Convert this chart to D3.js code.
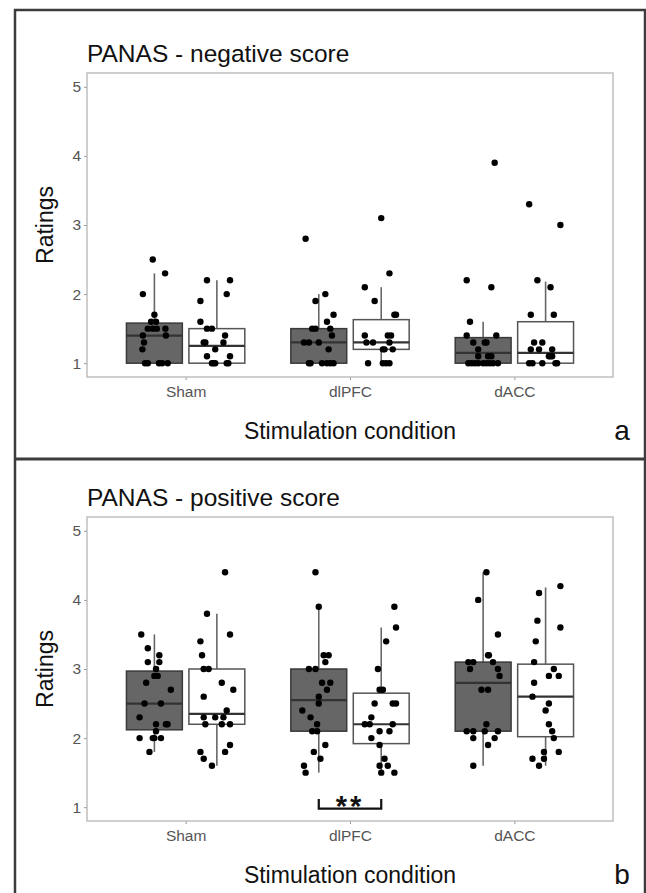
<!DOCTYPE html>
<html>
<head>
<meta charset="utf-8">
<script src="https://cdnjs.cloudflare.com/ajax/libs/d3/7.8.5/d3.min.js"></script>
<style>
  body { margin: 0; background: #fff; }
  text { font-family: "Liberation Sans", Arial, sans-serif; }
</style>
</head>
<body>
<div id="chart"></div>
<script>

// categories and tick labels
var categories = ["Sham", "dlPFC", "dACC"];
var yTicks = [1, 2, 3, 4, 5];

// points are [rating, jitter] (jitter in category units)
// groups go Sham-dark, Sham-white, dlPFC-dark, dlPFC-white, dACC-dark, dACC-white
var negShamDark = [[2.5,-0.01],[2.3,0.065],[2.0,-0.07],[1.7,0.0],[1.6,-0.02],[1.6,0.01],[1.5,-0.04],[1.5,-0.01],[1.5,0.015],[1.5,0.067],[1.4,-0.07],[1.4,0.07],[1.3,-0.063],[1.2,-0.073],[1.0,-0.057],[1.0,-0.04],[1.0,0.028],[1.0,0.047],[1.0,0.081]];
var negShamWhite = [[2.2,-0.06],[2.2,0.08],[2.0,0.06],[1.9,-0.10],[1.6,-0.10],[1.5,-0.06],[1.5,-0.03],[1.4,0.05],[1.3,-0.08],[1.3,-0.07],[1.3,0.04],[1.2,-0.01],[1.1,-0.06],[1.1,0.08],[1.0,-0.03],[1.0,-0.02],[1.0,-0.01],[1.0,0.06],[1.0,0.07]];
var negDlpfcDark = [[2.8,-0.08],[2.0,0.04],[1.9,-0.02],[1.7,0.09],[1.6,0.05],[1.5,-0.04],[1.5,-0.02],[1.5,0.07],[1.4,0.08],[1.3,-0.09],[1.3,-0.06],[1.3,0.0],[1.2,0.06],[1.0,-0.06],[1.0,-0.05],[1.0,0.02],[1.0,0.05],[1.0,0.07],[1.0,0.09]];
var negDlpfcWhite = [[3.1,0.0],[2.3,0.05],[2.1,-0.1],[1.9,-0.04],[1.7,0.08],[1.7,0.09],[1.4,-0.1],[1.4,0.04],[1.4,0.06],[1.3,-0.09],[1.3,-0.05],[1.3,0.05],[1.2,0.01],[1.2,0.02],[1.2,0.07],[1.0,-0.08],[1.0,0.01],[1.0,0.03],[1.0,0.05]];
var negDaccDark = [[3.9,0.07],[2.2,-0.1],[2.1,0.05],[1.6,-0.08],[1.4,-0.1],[1.4,0.08],[1.3,-0.06],[1.3,0.01],[1.3,0.02],[1.2,-0.03],[1.1,-0.03],[1.1,0.03],[1.1,0.05],[1.0,-0.09],[1.0,-0.07],[1.0,-0.05],[1.0,-0.03],[1.0,0.0],[1.0,0.02],[1.0,0.04],[1.0,0.06],[1.0,0.09]];
var negDaccWhite = [[3.3,-0.1],[3.0,0.09],[2.2,-0.05],[2.1,0.03],[1.7,-0.09],[1.7,0.05],[1.3,-0.07],[1.3,-0.02],[1.2,-0.09],[1.2,-0.04],[1.2,0.04],[1.1,0.02],[1.1,0.03],[1.1,0.04],[1.0,-0.1],[1.0,-0.08],[1.0,-0.02],[1.0,0.06],[1.0,0.07]];

var posShamDark = [[3.5,-0.08],[3.3,-0.04],[3.2,0.03],[3.1,-0.04],[3.1,0.03],[3.0,0.01],[2.9,0.0],[2.9,0.02],[2.8,-0.05],[2.7,0.1],[2.5,-0.06],[2.5,0.04],[2.3,-0.09],[2.2,0.01],[2.2,0.07],[2.2,0.08],[2.1,0.01],[2.0,-0.09],[2.0,-0.01],[2.0,0.0],[2.0,0.04],[1.8,-0.03]];
var posShamWhite = [[4.4,0.05],[3.8,-0.06],[3.5,0.08],[3.4,-0.1],[3.2,-0.09],[3.0,-0.08],[3.0,-0.05],[2.8,0.03],[2.7,0.1],[2.6,-0.08],[2.4,0.06],[2.3,-0.08],[2.3,-0.01],[2.3,0.04],[2.2,-0.07],[2.2,0.03],[2.2,0.08],[1.9,0.08],[1.8,-0.1],[1.8,0.05],[1.7,-0.08],[1.6,-0.03]];
var posDlpfcDark = [[4.4,-0.02],[3.9,0.0],[3.2,0.03],[3.2,0.06],[3.1,0.04],[3.0,-0.06],[3.0,-0.02],[2.8,0.02],[2.8,0.07],[2.7,0.05],[2.6,0.0],[2.5,0.0],[2.4,-0.1],[2.3,-0.05],[2.2,-0.01],[2.1,-0.04],[2.1,-0.01],[1.9,0.04],[1.8,-0.03],[1.7,0.01],[1.6,-0.09],[1.5,-0.08]];
var posDlpfcWhite = [[3.9,0.08],[3.6,0.09],[3.4,0.03],[3.0,-0.02],[2.7,-0.01],[2.7,0.01],[2.5,-0.04],[2.5,0.07],[2.5,0.09],[2.3,-0.06],[2.2,-0.1],[2.2,-0.07],[2.2,0.07],[2.1,-0.01],[2.1,0.05],[2.0,-0.06],[1.9,-0.01],[1.7,0.02],[1.6,-0.01],[1.6,0.04],[1.5,0.0],[1.5,0.08]];
var posDaccDark = [[4.4,0.02],[4.0,-0.03],[3.5,0.09],[3.2,0.03],[3.2,0.035],[3.1,-0.09],[3.1,-0.06],[3.1,0.06],[3.0,-0.08],[3.0,0.09],[2.9,0.1],[2.7,-0.01],[2.7,0.03],[2.2,0.02],[2.1,-0.1],[2.1,-0.06],[2.1,0.01],[2.1,0.09],[2.0,-0.06],[2.0,0.07],[1.9,0.03],[1.6,-0.06]];
var posDaccWhite = [[4.2,0.09],[4.1,-0.04],[3.7,-0.05],[3.6,0.09],[3.4,-0.06],[3.1,-0.07],[3.0,0.05],[2.9,0.02],[2.9,0.08],[2.8,-0.07],[2.6,-0.08],[2.5,0.02],[2.4,0.0],[2.2,0.02],[2.1,0.04],[2.0,0.05],[1.8,-0.01],[1.8,0.08],[1.7,-0.08],[1.7,-0.01],[1.6,-0.04]];

// box stats [lower whisker, q1, median, q3, upper whisker]
var negBoxes = [[1,1,1.4,1.58,2.3],[1,1,1.25,1.5,2.2],[1,1,1.3,1.5,2.0],[1,1.2,1.3,1.63,2.1],[1,1,1.15,1.37,1.6],[1,1,1.15,1.6,2.18]];
var posBoxes = [[1.8,2.12,2.5,2.97,3.5],[1.6,2.2,2.35,3.0,3.8],[1.5,2.1,2.55,3.0,3.9],[1.5,1.92,2.2,2.65,3.6],[1.6,2.1,2.8,3.1,4.4],[1.6,2.02,2.6,3.07,4.18]];

// significance bracket for dlPFC in panel b: [bottom, tip] ratings
var posBracket = [0.98, 1.12];

var width = 646, height = 893;
var svg = d3.select("#chart").append("svg")
    .attr("width", width)
    .attr("height", height);

// outer frame and divider
svg.append("rect")
    .attr("x", 15).attr("y", 10)
    .attr("width", 630).attr("height", 900)
    .attr("fill", "none")
    .attr("stroke", "#3c3c3c")
    .attr("stroke-width", 2.5);
svg.append("line")
    .attr("x1", 15).attr("x2", 646)
    .attr("y1", 459).attr("y2", 459)
    .attr("stroke", "#3c3c3c")
    .attr("stroke-width", 3);

var dodge = 0.19, boxW = 0.34;

function drawPanel(top, title, letter, groups, boxes, bracket) {
  var panel = {left: 87, right: 613, top: top, bottom: top + 304};

  var x = d3.scaleLinear().domain([0.4, 3.6]).range([panel.left, panel.right]);
  var y = d3.scaleLinear().domain([0.8, 5.2]).range([panel.bottom, panel.top]);

  var g = svg.append("g");

  // title
  g.append("text")
      .attr("x", panel.left)
      .attr("y", top - 11)
      .style("font-size", "24.5px")
      .style("fill", "#111")
      .text(title);

  // axes
  var yAxis = d3.axisLeft(y).tickValues(yTicks).tickFormat(d3.format("d"))
      .tickSize(3).tickPadding(3);
  var gy = g.append("g")
      .attr("transform", "translate(" + panel.left + ",0)")
      .call(yAxis);
  var xAxis = d3.axisBottom(x).tickValues([1, 2, 3])
      .tickFormat(function(d) { return categories[d - 1]; })
      .tickSize(3).tickPadding(6);
  var gx = g.append("g")
      .attr("transform", "translate(0," + panel.bottom + ")")
      .call(xAxis);
  [gx, gy].forEach(function(a) {
    a.select(".domain").remove();
    a.selectAll("line").attr("stroke", "#999").attr("stroke-width", 1);
    a.selectAll("text").style("font-size", "15.5px").style("fill", "#555")
      .style("font-family", '"Liberation Sans", Arial, sans-serif');
  });

  // panel border
  g.append("rect")
      .attr("x", panel.left).attr("y", panel.top)
      .attr("width", panel.right - panel.left)
      .attr("height", panel.bottom - panel.top)
      .attr("fill", "none")
      .attr("stroke", "#b5b5b5")
      .attr("stroke-width", 1.3);

  // axis titles
  g.append("text")
      .attr("x", x(2))
      .attr("y", panel.bottom + 62)
      .attr("text-anchor", "middle")
      .style("font-size", "23px")
      .style("fill", "#111")
      .text("Stimulation condition");
  g.append("text")
      .attr("transform", "translate(53," + y(3) + ") rotate(-90)")
      .attr("text-anchor", "middle")
      .style("font-size", "23px")
      .style("fill", "#111")
      .text("Ratings");

  // panel letter
  g.append("text")
      .attr("x", 622)
      .attr("y", panel.bottom + 63)
      .attr("text-anchor", "middle")
      .style("font-size", "28px")
      .style("fill", "#111")
      .text(letter);

  // boxes
  boxes.forEach(function(b, i) {
    var cat = Math.floor(i / 2) + 1;
    var cx = cat + (i % 2 === 0 ? -dodge : dodge);
    var dark = i % 2 === 0;
    var bg = g.append("g");
    bg.append("line")
        .attr("x1", x(cx)).attr("x2", x(cx))
        .attr("y1", y(b[0])).attr("y2", y(b[4]))
        .attr("stroke", "#666").attr("stroke-width", 1.6);
    bg.append("rect")
        .attr("x", x(cx - boxW / 2))
        .attr("width", x(cx + boxW / 2) - x(cx - boxW / 2))
        .attr("y", y(b[3]))
        .attr("height", Math.max(y(b[1]) - y(b[3]), 0))
        .attr("fill", dark ? "#666666" : "#ffffff")
        .attr("stroke", dark ? "#3a3a3a" : "#555")
        .attr("stroke-width", 1.5);
    bg.append("line")
        .attr("x1", x(cx - boxW / 2)).attr("x2", x(cx + boxW / 2))
        .attr("y1", y(b[2])).attr("y2", y(b[2]))
        .attr("stroke", "#333").attr("stroke-width", 2.2);
  });

  // jittered points
  groups.forEach(function(pts, i) {
    var cat = Math.floor(i / 2) + 1;
    var cx = cat + (i % 2 === 0 ? -dodge : dodge);
    g.selectAll(null)
        .data(pts)
      .enter().append("circle")
        .attr("cx", function(d) { return x(cx + d[1]); })
        .attr("cy", function(d) { return y(d[0]); })
        .attr("r", 3.2)
        .attr("fill", "#000");
  });

  // significance bracket
  if (bracket) {
    var x0 = x(2 - dodge), x1 = x(2 + dodge);
    g.append("path")
        .attr("d", "M" + x0 + "," + y(bracket[1]) + "V" + y(bracket[0]) +
                   "H" + x1 + "V" + y(bracket[1]))
        .attr("fill", "none")
        .attr("stroke", "#111")
        .attr("stroke-width", 2.2);
    g.append("text")
        .attr("x", x(2))
        .attr("y", y(bracket[0]) + 7)
        .attr("text-anchor", "middle")
        .style("font-size", "29px")
        .style("font-weight", "bold")
        .style("letter-spacing", "3px")
        .style("fill", "#111")
        .text("**");
  }
}

drawPanel(73, "PANAS - negative score", "a",
  [negShamDark, negShamWhite, negDlpfcDark, negDlpfcWhite, negDaccDark, negDaccWhite],
  negBoxes, null);
drawPanel(517, "PANAS - positive score", "b",
  [posShamDark, posShamWhite, posDlpfcDark, posDlpfcWhite, posDaccDark, posDaccWhite],
  posBoxes, posBracket);

</script>
</body>
</html>
